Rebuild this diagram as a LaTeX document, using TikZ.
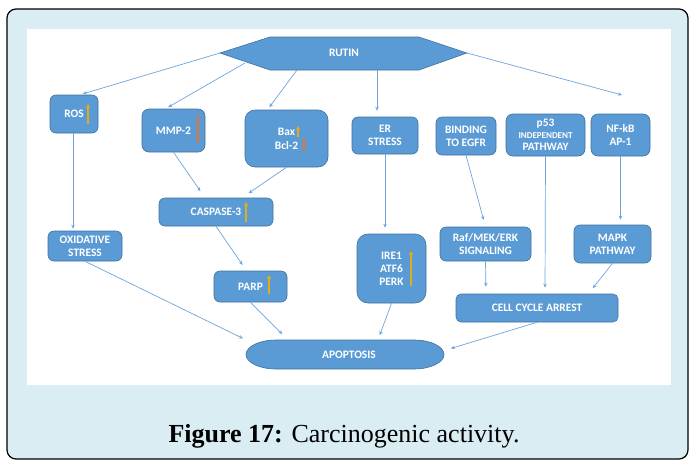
\documentclass[tikz,border=0pt]{standalone}
\usepackage{fontspec}
\setmainfont{Liberation Serif}
\newfontfamily\carlito{Carlito}
\usetikzlibrary{arrows.meta}
\definecolor{bgblue}{RGB}{217,237,242}
\definecolor{boxblue}{RGB}{91,155,213}
\definecolor{boxedge}{RGB}{65,113,156}
\definecolor{lineblue}{RGB}{110,165,220}
\definecolor{upyellow}{RGB}{222,172,30}
\definecolor{downorange}{RGB}{220,120,60}
\begin{document}
\begin{tikzpicture}[x=1pt,y=-1pt,
  box/.style={draw=boxedge, line width=0.6pt, fill=boxblue, rounded corners=6pt, text=white,
    font=\carlito\bfseries\fontsize{11.4}{13}\selectfont, align=center, inner sep=0pt},
  lbl/.style={text=white, font=\carlito\bfseries\fontsize{11.4}{13}\selectfont, align=center, inner sep=0pt},
  conn/.style={draw=lineblue, line width=0.7pt, -{Stealth[length=4pt,width=3.5pt]}, shorten >=#1},
  conn/.default=3pt,
  uparr/.style={draw=upyellow, line width=1.3pt, -{Triangle[length=3.5pt,width=4pt]}},
  dnarr/.style={draw=downorange, line width=1.3pt, -{Triangle[length=3.5pt,width=4pt]}}
]
\useasboundingbox (0,0) rectangle (689,461);
% frame
\fill[white] (0,0) rectangle (689,461);
\draw[fill=bgblue, line width=1.2pt, rounded corners=9pt] (7,9) rectangle (688,459);
\fill[white] (27,29) rectangle (671,385);

% RUTIN hexagon
\draw[draw=boxedge, line width=0.6pt, fill=boxblue] (220,53) -- (270,37) -- (419,37) -- (467,53) -- (419,70) -- (270,70) -- cycle;
\node[lbl] (rutin) at (344,53) {RUTIN};
\coordinate (rL) at (220,53);
\coordinate (r2) at (245,63);
\coordinate (r3) at (297,70);
\coordinate (r4) at (377,70);
\coordinate (rR) at (467,53);
\coordinate (nfin) at (622,95);

% boxes
\node[box, minimum width=48, minimum height=38] (ros) at (74,114) {ROS};
\node[box, minimum width=63, minimum height=43, rounded corners=7pt] (mmp) at (173.5,130.5) {MMP-2};
\node[box, minimum width=83, minimum height=57, rounded corners=10pt] (bax) at (286.5,138.5) {Bax\\[1pt]Bcl-2};
\node[box, minimum width=114, minimum height=28] (casp) at (216,212) {CASPASE-3};
\node[box, minimum width=66, minimum height=37] (er) at (385,135.5) {ER\\STRESS};
\node[box, minimum width=60, minimum height=38] (bind) at (466,136) {BINDING\\TO EGFR};
\node[box, minimum width=79, minimum height=42, rounded corners=7pt] (p53) at (545.5,135) {p53\\[-1pt]{\fontsize{9}{11}\selectfont INDEPENDENT}\\[-1pt]PATHWAY};
\node[box, minimum width=59, minimum height=42, rounded corners=7pt] (nfkb) at (620.5,135) {NF-kB\\AP-1};
\node[box, minimum width=74, minimum height=30] (oxid) at (85,246) {OXIDATIVE\\STRESS};
\node[box, minimum width=73, minimum height=31] (parp) at (250.5,286.5) {PARP};
\node[box, minimum width=69, minimum height=69, rounded corners=11pt] (irep) at (391.5,268.5) {IRE1\\ATF6\\PERK};
\node[box, minimum width=91, minimum height=34] (raf) at (485.5,244) {Raf/MEK/ERK\\SIGNALING};
\node[box, minimum width=77, minimum height=38] (mapk) at (612.5,244) {MAPK\\PATHWAY};
\node[box, minimum width=162, minimum height=28, rounded corners=5pt] (cell) at (537,308) {CELL CYCLE ARREST};

% APOPTOSIS
\draw[draw=boxedge, line width=0.6pt, fill=boxblue] (276,340) -- (414,340)
  arc[start angle=-90, end angle=90, x radius=30, y radius=14.5] -- (276,369)
  arc[start angle=90, end angle=270, x radius=30, y radius=14.5] -- cycle;
\node[inner sep=0pt, minimum width=198, minimum height=29] (apop) at (345,354.5) {};
\node[lbl] (apoptxt) at (349,355) {APOPTOSIS};

% in-box arrows
\draw[uparr] (88,124) -- (88,104);
\draw[dnarr] (198,115) -- (198,143);
\draw[uparr] (298,137) -- (298,126);
\draw[dnarr] (304,138) -- (304,151);
\draw[uparr] (246,222) -- (246,202);
\draw[uparr] (269,294) -- (269,275);
\draw[uparr] (411,286) -- (411,251);

% connectors
\draw[conn] (rL) -- ([xshift=6pt]ros.north);
\draw[conn] (r2) -- ([xshift=-8pt]mmp.north);
\draw[conn] (r3) -- ([xshift=-19pt]bax.north);
\draw[conn=6pt] (r4) -- ([xshift=-8pt]er.north);
\draw[conn=0pt] (rR) -- (nfin);
\draw[conn=2pt] ([xshift=-1pt]ros.south) -- ([xshift=-12pt]oxid.north);
\draw[conn=8pt] (mmp.south) -- ([xshift=-11pt]casp.north);
\draw[conn=8pt] (bax.south) -- ([xshift=26pt]casp.north);
\draw[conn=7pt] (casp.south) -- ([xshift=-4pt]parp.north);
\draw[conn=3pt] (oxid.south) -- (apop.north west);
\draw[conn=8pt] (parp.south) -- ([xshift=-57pt]apop.north);
\draw[conn=6pt] (er.south) -- ([xshift=-6.5pt]irep.north);
\draw[conn=7pt] (bind.south) -- (raf.north);
\draw[conn=6pt] (p53.south) -- ([xshift=8pt]cell.north);
\draw[conn=5pt] (nfkb.south) -- ([xshift=8pt]mapk.north);
\draw[conn=5pt] (irep.south) -- ([xshift=33pt]apop.north);
\draw[conn=7pt] (raf.south) -- ([xshift=-51pt]cell.north);
\draw[conn=7pt] (mapk.south) -- ([xshift=51.5pt]cell.north);
\draw[conn=7pt] (cell.south) -- ([yshift=4pt]apop.east);

% caption
\node[inner sep=0pt, font=\fontsize{26}{30}\selectfont] (cap) at (344,436) {\textbf{Figure 17:} Carcinogenic activity.};
\end{tikzpicture}
\end{document}
